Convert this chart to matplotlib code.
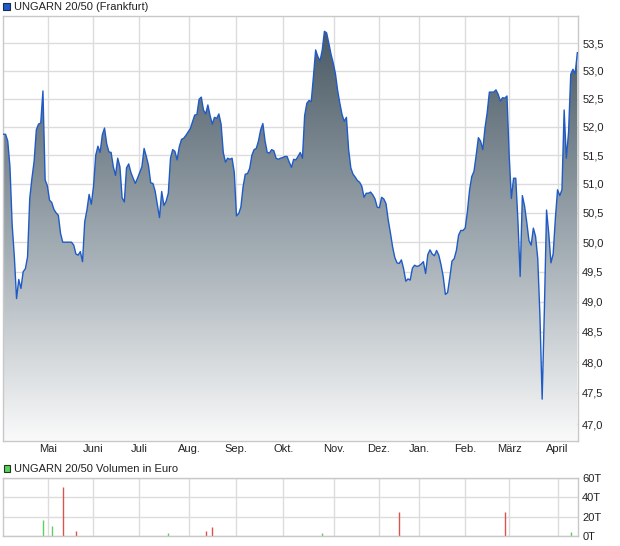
import matplotlib
matplotlib.use("Agg")
import matplotlib.pyplot as plt
from matplotlib.colors import LinearSegmentedColormap
from matplotlib.patches import Rectangle
import numpy as np

plt.rcParams['font.family'] = ['Liberation Sans', 'DejaVu Sans']

# daily closes (one value per trading day)
price = [
    51.87, 51.87, 51.75, 51.3, 50.3, 49.75, 49.05, 49.37, 49.22, 49.5,
    49.55, 49.75, 50.75, 51.1, 51.4, 51.95, 52.05, 52.07, 52.64, 51.07,
    50.97, 50.72, 50.68, 50.56, 50.5, 50.46, 50.15, 50.0, 50.0, 50.0,
    50.0, 50.0, 49.95, 49.8, 49.78, 49.84, 49.67, 50.35, 50.55, 50.82,
    50.65, 50.96, 51.5, 51.66, 51.55, 51.86, 51.98, 51.7, 51.56, 51.55,
    51.3, 51.15, 51.45, 51.3, 50.76, 50.69, 51.28, 51.35, 51.2, 51.1,
    51.01, 51.1, 51.2, 51.3, 51.62, 51.48,
    51.32, 51.02, 51.01, 50.88, 50.65, 50.42, 50.87, 50.63, 50.7, 50.84,
    51.45, 51.6, 51.57, 51.42, 51.65, 51.78, 51.8, 51.85, 51.91, 51.97,
    52.09, 52.21, 52.22, 52.49, 52.53, 52.3, 52.23, 52.39, 52.2, 52.05,
    52.17, 52.15, 52.23, 52.05, 51.55, 51.38, 51.45, 51.43, 51.45, 51.2,
    50.45, 50.49, 50.6, 50.95, 51.17, 51.18, 51.27, 51.5, 51.6, 51.62,
    51.75, 51.95, 52.06, 51.75, 51.55, 51.54, 51.6, 51.58, 51.45, 51.43,
    51.45, 51.46, 51.48, 51.48, 51.38, 51.29,
    51.43, 51.42, 51.48, 51.55, 51.45, 52.2, 52.42, 52.47, 52.45, 52.9,
    53.38, 53.26, 53.18, 53.38, 53.72, 53.69, 53.5, 53.3, 53.14, 52.95,
    52.65, 52.42, 52.22, 52.1, 52.17, 51.6, 51.28, 51.17, 51.12, 51.06,
    51.03, 50.96, 50.77, 50.84, 50.84, 50.86, 50.81, 50.74, 50.6, 50.59,
    50.77, 50.74, 50.66, 50.38, 50.16, 49.92, 49.74, 49.65, 49.64, 49.7,
    49.55, 49.34, 49.38, 49.36, 49.56, 49.61, 49.59, 49.6, 49.63, 49.67,
    49.47, 49.79, 49.87, 49.8, 49.77, 49.86,
    49.78, 49.62, 49.42, 49.12, 49.15, 49.4, 49.68, 49.72, 49.86, 50.12,
    50.2, 50.2, 50.24, 50.52, 50.9, 51.13, 51.22, 51.5, 51.81, 51.75,
    51.6, 51.98, 52.25, 52.62, 52.62, 52.62, 52.66, 52.58, 52.46, 52.52,
    52.51, 52.55, 51.5, 50.75, 51.1, 51.1, 50.35, 49.42, 50.8, 50.62,
    50.34, 50.03, 49.95, 50.24, 50.1, 49.72, 48.75, 47.4, 48.85, 50.55,
    50.15, 49.65, 49.8, 50.4, 50.9, 50.8, 50.9, 52.3, 51.45, 51.9,
    52.94, 53.03, 52.95, 53.33,
]

# first trading day of each month (index into price)
month_pos = [20.2, 40.9, 61.8, 84.5, 105.6, 127.3, 150.5, 170.6, 189.1, 210.0, 230.0, 252.0]
month_lbl = ['Mai', 'Juni', 'Juli', 'Aug.', 'Sep.', 'Okt.', 'Nov.', 'Dez.', 'Jan.', 'Feb.', 'März', 'April']

price_ticks = [47.0, 47.5, 48.0, 48.5, 49.0, 49.5, 50.0, 50.5, 51.0, 51.5, 52.0, 52.5, 53.0, 53.5]

# volume in thousand euro
vol_day = [18, 22, 27, 33, 75, 92, 95, 145, 180, 228, 258]
vol_k = [16.4, 10.3, 50.3, 5.0, 3.0, 5.0, 9.5, 3.0, 24.6, 24.6, 4.0]
vol_up = [True, True, False, False, True, False, False, True, False, False, True]
vol_ticks = [0, 20, 40, 60]

GRID = '#dcdcdc'
FRAME = '#c8c8c8'
LINE = '#1f5bc6'
GREEN = '#5ccf5c'
RED = '#d9534f'

fig = plt.figure(figsize=(6.2, 5.46), dpi=100)
W, H = 620, 546

def box(l, t, r, b):
    return [l / W, 1 - b / H, (r - l) / W, (b - t) / H]

ax = fig.add_axes(box(2.7, 16, 578, 441))
ax2 = fig.add_axes(box(2.7, 477.7, 578, 536))

x = np.arange(len(price))
ax.set_yscale('log')
ax.set_axisbelow(True)

poly = ax.fill_between(x, price, 40, facecolor='none', edgecolor='none')
cmap = LinearSegmentedColormap.from_list('g', [(0, '#44545f'), (0.55, '#a3adb4'), (1, '#fafafa')])
grad = np.linspace(0, 1, 256).reshape(-1, 1)
im = ax.imshow(grad, extent=[0, 1, 0, 1], transform=ax.transAxes, aspect='auto',
               cmap=cmap, origin='upper', zorder=1, interpolation='bilinear')
im.set_clip_path(poly.get_paths()[0], transform=ax.transData)
ax.plot(x, price, color=LINE, lw=1.0, zorder=3)

ax.set_xlim(-0.3, 261.3)
ax.set_ylim(46.73, 54.0)
ax.yaxis.set_major_locator(plt.FixedLocator(price_ticks))
ax.yaxis.set_minor_locator(plt.NullLocator())
ax.set_yticklabels([f'{v:.1f}'.replace('.', ',') for v in price_ticks])
ax.set_xticks(month_pos)
ax.set_xticklabels(month_lbl)

ax2.vlines(vol_day, 0, vol_k, colors=[GREEN if u else RED for u in vol_up], lw=1.0)
ax2.set_xlim(-0.3, 261.3)
ax2.set_ylim(0, 60)
ax2.set_yticks(vol_ticks)
ax2.set_yticklabels([f'{v}T' for v in vol_ticks])
ax2.set_xticks(month_pos)
ax2.set_xticklabels([])
ax2.set_axisbelow(True)

for a in (ax, ax2):
    a.grid(True, color=GRID, lw=1.0)
    a.yaxis.tick_right()
    a.tick_params(length=0, labelsize=8, labelcolor='#222222', pad=3)
    for s in a.spines.values():
        s.set_color(FRAME)
        s.set_linewidth(1.0)
ax.tick_params(axis='x', pad=2)

# legend squares and captions
fig.patches.append(Rectangle((3 / W, 1 - 10 / H), 7 / W, 7 / H, transform=fig.transFigure,
                             facecolor='#1f5bc6', edgecolor='#1a2a50', lw=0.8))
fig.text(14 / W, 1 - 7 / H, 'UNGARN 20/50 (Frankfurt)', fontsize=8, va='center', color='#222222')
fig.patches.append(Rectangle((3.5 / W, 1 - 472 / H), 7 / W, 7 / H, transform=fig.transFigure,
                             facecolor=GREEN, edgecolor='#1e3a1e', lw=0.8))
fig.text(14 / W, 1 - 468.5 / H, 'UNGARN 20/50 Volumen in Euro', fontsize=8, va='center', color='#222222')

fig.savefig('out.png', dpi=100)
